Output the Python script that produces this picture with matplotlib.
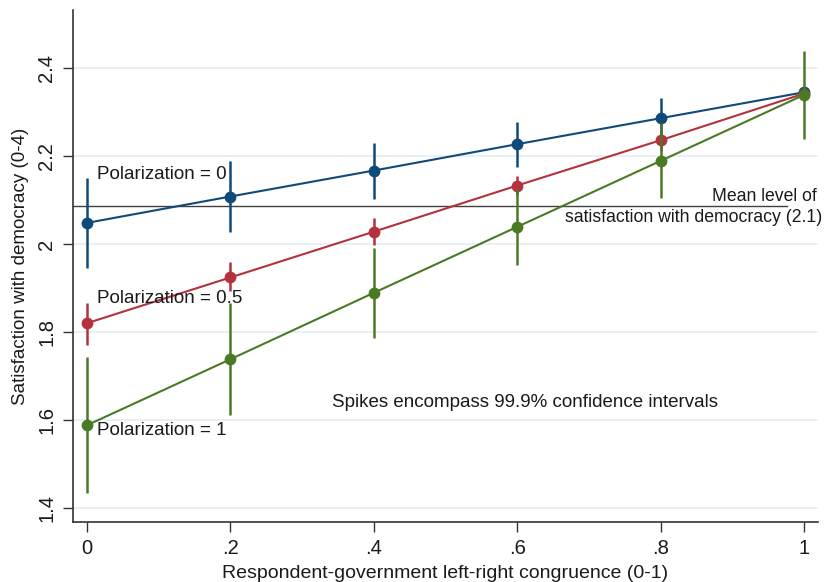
import numpy as np
import matplotlib
matplotlib.use("Agg")
import matplotlib.pyplot as plt

plt.rcParams['font.family'] = ['Liberation Sans', 'DejaVu Sans']

# congruence values
congruence = [0, 0.2, 0.4, 0.6, 0.8, 1.0]
xtick_labels = ['0', '.2', '.4', '.6', '.8', '1']
yticks = [1.4, 1.6, 1.8, 2.0, 2.2, 2.4]
ytick_labels = ['1.4', '1.6', '1.8', '2', '2.2', '2.4']

# predicted satisfaction and 99.9% CI, polarization = 0
pol0_est = [2.048, 2.108, 2.167, 2.227, 2.286, 2.345]
pol0_lo = [1.946, 2.027, 2.102, 2.176, 2.240, 2.335]
pol0_hi = [2.150, 2.189, 2.230, 2.278, 2.333, 2.355]

# polarization = 0.5
pol05_est = [1.820, 1.924, 2.028, 2.133, 2.236, 2.342]
pol05_lo = [1.770, 1.893, 1.998, 2.111, 2.212, 2.325]
pol05_hi = [1.867, 1.960, 2.058, 2.155, 2.260, 2.358]

# polarization = 1
pol1_est = [1.588, 1.738, 1.889, 2.039, 2.189, 2.339]
pol1_lo = [1.433, 1.611, 1.786, 1.952, 2.104, 2.239]
pol1_hi = [1.744, 1.866, 1.990, 2.126, 2.274, 2.439]

mean_level = 2.086

series = [
    (pol0_est, pol0_lo, pol0_hi, '#0f4a7b'),
    (pol05_est, pol05_lo, pol05_hi, '#b3323d'),
    (pol1_est, pol1_lo, pol1_hi, '#4b7a27'),
]

fig = plt.figure(figsize=(8.25, 5.82), dpi=100)
ax = fig.add_axes([0.0885, 0.1031, 0.903, 0.8797])

for y in yticks:
    ax.axhline(y, color='#e6f1f3', lw=1.3, zorder=0)

ax.plot([-0.0195, 0.976], [mean_level, mean_level], color='#404040', lw=1.0, zorder=1)

for i, (est, lo, hi, col) in enumerate(series):
    ax.vlines(congruence, lo, hi, color=col, lw=1.8, zorder=2 + i)
    ax.plot(congruence, est, color=col, lw=1.5, marker='o', ms=8.5,
            markeredgewidth=0, zorder=2 + i)

txt = dict(fontsize=13.5, color='#1a1a1a')
ax.text(0.014, 2.159, 'Polarization = 0', va='center', ha='left', **txt)
ax.text(0.014, 1.877, 'Polarization = 0.5', va='center', ha='left', **txt)
ax.text(0.014, 1.577, 'Polarization = 1', va='center', ha='left', **txt)
ax.text(0.342, 1.639, 'Spikes encompass 99.9% confidence intervals', va='center', ha='left', **txt)
ax.text(1.018, 2.1075, 'Mean level of', va='center', ha='right', fontsize=12.7, color='#1a1a1a')
ax.text(1.026, 2.060, f'satisfaction with democracy ({mean_level:.1f})', va='center', ha='right',
        fontsize=12.7, color='#1a1a1a')

ax.set_xlim(-0.0195, 1.0195)
ax.set_ylim(1.368, 2.532)
ax.set_xticks(congruence)
ax.set_xticklabels(xtick_labels)
ax.set_yticks(yticks)
ax.set_yticklabels(ytick_labels, rotation=90, va='center')

for s in ['top', 'right']:
    ax.spines[s].set_visible(False)
for s in ['left', 'bottom']:
    ax.spines[s].set_color('#333333')
    ax.spines[s].set_linewidth(1.2)

ax.tick_params(axis='both', direction='out', length=7, width=1.0, color='#333333',
               labelsize=14.5, labelcolor='#1a1a1a')
ax.tick_params(axis='y', pad=5)
ax.tick_params(axis='x', pad=5)

ax.set_xlabel('Respondent-government left-right congruence (0-1)', fontsize=14, color='#1a1a1a', labelpad=5)
ax.set_ylabel('Satisfaction with democracy (0-4)', fontsize=13.5, color='#1a1a1a', labelpad=6)

fig.savefig('out.png', dpi=100, facecolor='white')
